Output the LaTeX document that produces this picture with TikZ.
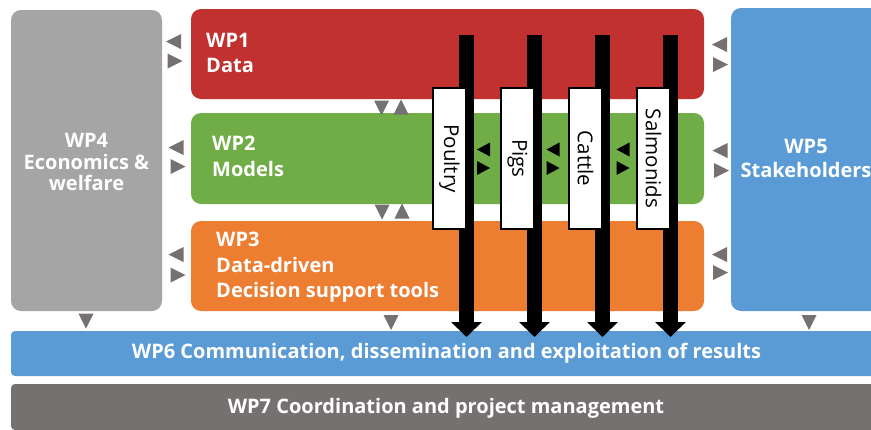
\documentclass[tikz,border=0pt]{standalone}
\usepackage{fontspec}
\setmainfont{Open Sans}
\usetikzlibrary{arrows.meta}
\definecolor{wpred}{HTML}{C0312F}
\definecolor{wpgreen}{HTML}{70AD47}
\definecolor{wporange}{HTML}{ED7D31}
\definecolor{wpblue}{HTML}{5B9BD5}
\definecolor{wpgray}{HTML}{A5A5A5}
\definecolor{wpdark}{HTML}{767171}
\definecolor{trigray}{HTML}{767171}
\tikzset{
  box/.style={draw=none, rounded corners=10pt, inner sep=0pt, outer sep=0pt},
  bar/.style={draw=none, rounded corners=4pt, inner sep=0pt, outer sep=0pt},
  lbl/.style={text=white, font=\bfseries\fontsize{20}{24}\selectfont, inner sep=0pt, anchor=base west},
  clbl/.style={text=white, font=\bfseries\fontsize{20}{24}\selectfont, inner sep=0pt, anchor=base},
  species/.style={draw=black, line width=2pt, fill=white, minimum width=141pt, minimum height=33pt, inner sep=0pt, font=\fontsize{20.5}{24}\selectfont, rotate=-90},
  flow/.style={line width=15pt, draw=black, -{Triangle[width=30pt,length=15pt]}},
  lefttri/.pic={\fill[#1] (-7.5,0) -- (7.5,-7.5) -- (7.5,7.5) -- cycle;},
  righttri/.pic={\fill[#1] (7.5,0) -- (-7.5,-7.5) -- (-7.5,7.5) -- cycle;},
  downtri/.pic={\fill[#1] (0,7.5) -- (-7.5,-7.5) -- (7.5,-7.5) -- cycle;},
  uptri/.pic={\fill[#1] (0,-7.5) -- (-7.5,7.5) -- (7.5,7.5) -- cycle;},
  smallleft/.pic={\fill[black] (-6.5,0) -- (6.5,-7) -- (6.5,7) -- cycle;},
  smallright/.pic={\fill[black] (6.5,0) -- (-6.5,-7) -- (-6.5,7) -- cycle;},
}
\begin{document}
\begin{tikzpicture}[x=1pt,y=-1pt]
\useasboundingbox (0,0) rectangle (871,429);
\clip (0,0) rectangle (871,429);
\fill[white] (0,0) rectangle (871,429);
% boxes
\node[box, fill=wpgray, minimum width=151pt, minimum height=301pt] (wp4) at (86.5,160.5) {};
\node[box, fill=wpred, minimum width=513pt, minimum height=90pt] (wp1) at (447.5,54) {};
\node[box, fill=wpgreen, minimum width=513pt, minimum height=91pt] (wp2) at (447.5,158.5) {};
\node[box, fill=wporange, minimum width=513pt, minimum height=90pt] (wp3) at (447.5,266) {};
\node[box, fill=wpblue, minimum width=150pt, minimum height=303pt] (wp5) at (806,159.5) {};
\node[bar, fill=wpblue, minimum width=871pt, minimum height=45pt] (wp6) at (446.5,353.5) {};
\node[bar, fill=wpdark, minimum width=871pt, minimum height=46pt] (wp7) at (446.5,407) {};
% labels
\node[lbl] (wp1a) at (206,47) {WP1};
\node[lbl] (wp1b) at (206,72) {Data};
\node[lbl] (wp2a) at (212,150) {WP2};
\node[lbl] (wp2b) at (212,176) {Models};
\node[lbl] (wp3a) at (216,246) {WP3};
\node[lbl] (wp3b) at (216,272) {Data-driven};
\node[lbl] (wp3c) at (216,297) {Decision support tools};
\node[clbl] (wp4a) at (86.5,147) {WP4};
\node[clbl] (wp4b) at (86.5,169) {Economics \&};
\node[clbl] (wp4c) at (86.5,190) {welfare};
\node[clbl] (wp5a) at (806,153) {WP5};
\node[clbl] (wp5b) at (806,177) {Stakeholders};
\node[clbl] (wp6a) at (446.5,358) {WP6 Communication, dissemination and exploitation of results};
\node[clbl] (wp7a) at (446,413) {WP7 Coordination and project management};
% species flows
\foreach \n/\x in {pa/466.5, pb/534.5, pc/602.5, pd/670.5}{
  \coordinate (\n top) at (\x,35);
  \coordinate (\n end) at (\x,337);
  \draw[flow] (\n top) -- (\n end);
}
\node[species] (poultry) at (449.5,158.5) {Poultry};
\node[species] (pigs) at (517.5,158.5) {Pigs};
\node[species] (cattle) at (585.5,158.5) {Cattle};
\node[species] (salmonids) at (653.5,158.5) {Salmonids};
% black triangles between species
\foreach \x in {483.5,553,623}{
  \pic at (\x,149.5) {smallleft};
  \pic at (\x,168) {smallright};
}
% gray triangles left
\pic at (173.5,41.5) {lefttri=trigray};
\pic at (175,61) {righttri=trigray};
\pic at (176,147.5) {lefttri=trigray};
\pic at (178,166.5) {righttri=trigray};
\pic at (176,254.5) {lefttri=trigray};
\pic at (178,275) {righttri=trigray};
% gray triangles right
\pic at (719.5,44.5) {lefttri=trigray};
\pic at (720.5,64.5) {righttri=trigray};
\pic at (720,150.5) {lefttri=trigray};
\pic at (721.5,170.5) {righttri=trigray};
\pic at (719.5,254.5) {lefttri=trigray};
\pic at (720.5,272.5) {righttri=trigray};
% vertical gray triangles
\pic at (381.5,108) {downtri=trigray};
\pic at (401,107) {uptri=trigray};
\pic at (382,212) {downtri=trigray};
\pic at (402,211) {uptri=trigray};
\pic at (86,321) {downtri=trigray};
\pic at (391,322.5) {downtri=trigray};
\pic at (809,322.5) {downtri=trigray};
\end{tikzpicture}
\end{document}
